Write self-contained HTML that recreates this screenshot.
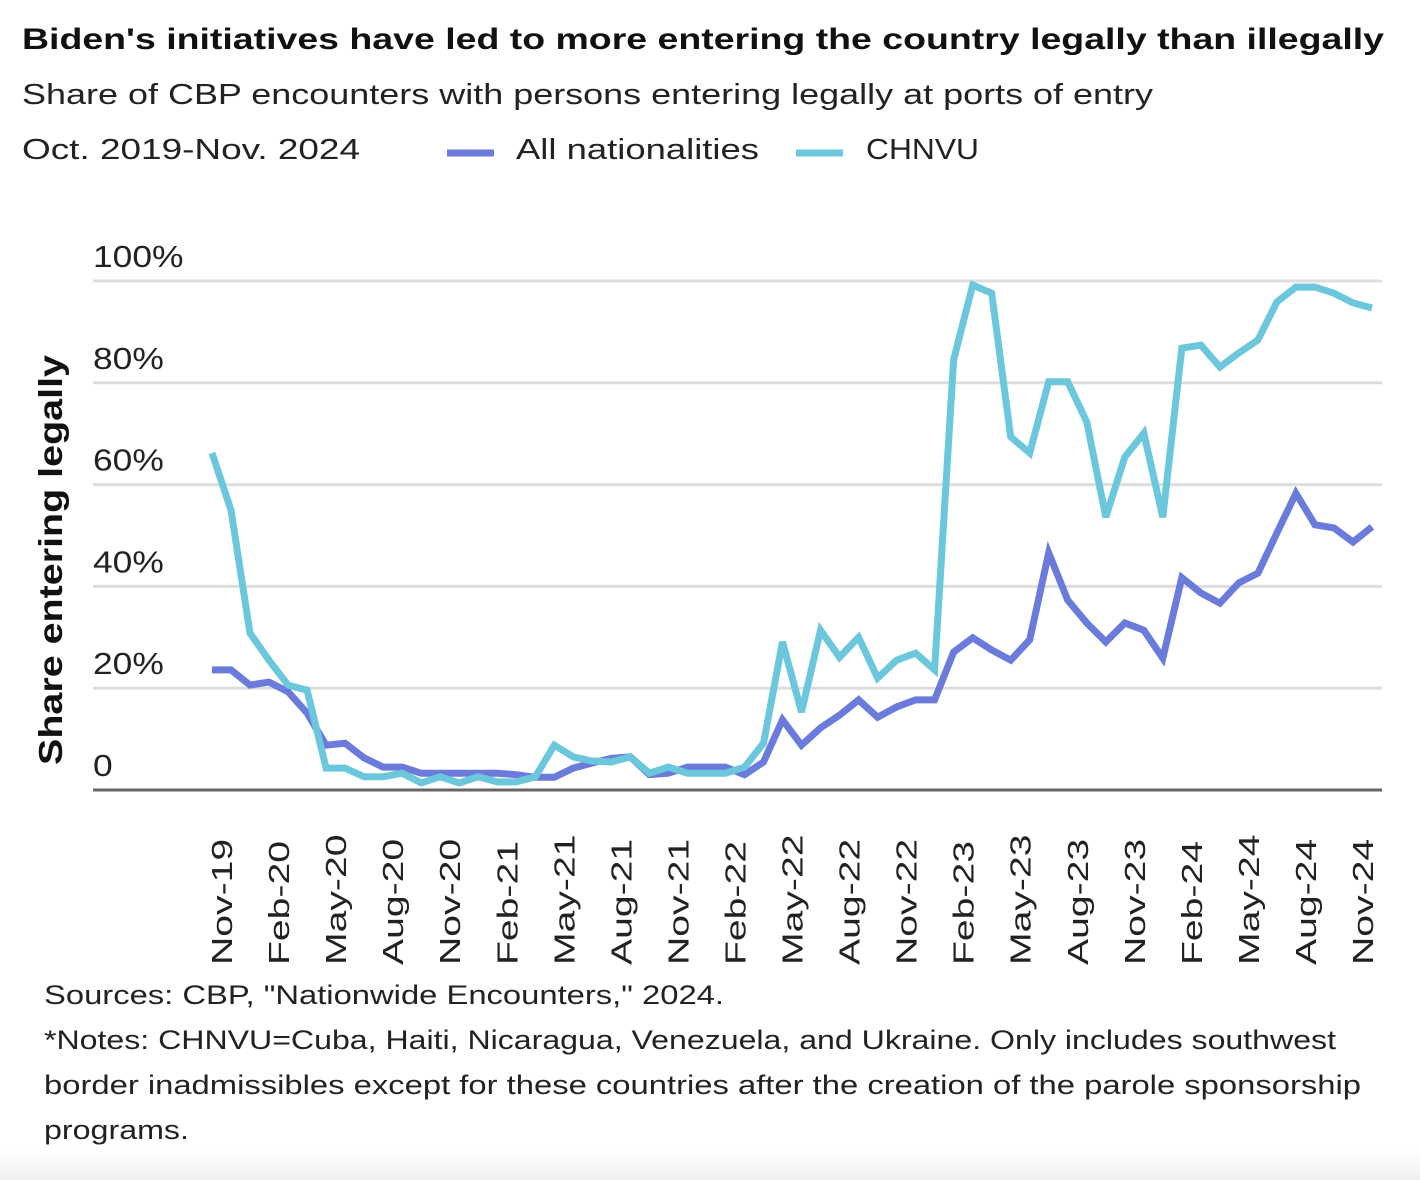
<!DOCTYPE html>
<html><head><meta charset="utf-8"><style>
body{margin:0;background:#fff;}
svg{display:block;font-family:"Liberation Sans",Arial,sans-serif;}
</style></head><body>
<svg id="chart" width="1420" height="1180" viewBox="0 0 1420 1180">
<defs><linearGradient id="bg" x1="0" y1="0" x2="0" y2="1"><stop offset="0" stop-color="#fff"/><stop offset="1" stop-color="#f0f0f0"/></linearGradient></defs>
<rect x="0" y="1150" width="1420" height="30" fill="url(#bg)"/>
<text x="22" y="49" font-size="30" font-weight="bold" fill="#111" textLength="1362" lengthAdjust="spacingAndGlyphs">Biden's initiatives have led to more entering the country legally than illegally</text>
<text x="22" y="104" font-size="29" fill="#222" textLength="1131" lengthAdjust="spacingAndGlyphs">Share of CBP encounters with persons entering legally at ports of entry</text>
<text x="22" y="159" font-size="29" fill="#222" textLength="338" lengthAdjust="spacingAndGlyphs">Oct. 2019-Nov. 2024</text>
<g>
<line x1="447" y1="153" x2="494" y2="153" stroke="#6b7bdc" stroke-width="7"/>
<text x="516" y="159" font-size="29" fill="#222" textLength="243" lengthAdjust="spacingAndGlyphs">All nationalities</text>
</g>
<g>
<line x1="796" y1="153" x2="843" y2="153" stroke="#6bc7dc" stroke-width="7"/>
<text x="866" y="159" font-size="29" fill="#222" textLength="113" lengthAdjust="spacingAndGlyphs">CHNVU</text>
</g>
<text transform="translate(62,560) rotate(-90)" text-anchor="middle" font-size="33" font-weight="bold" fill="#111" textLength="410" lengthAdjust="spacingAndGlyphs">Share entering legally</text>
<g id="grid"></g><g id="series"></g><g id="xlabels"></g>
<text x="44" y="1004" font-size="27" fill="#222" textLength="680" lengthAdjust="spacingAndGlyphs">Sources: CBP, "Nationwide Encounters," 2024.</text>
<text x="44" y="1049" font-size="27" fill="#222" textLength="1292" lengthAdjust="spacingAndGlyphs">*Notes: CHNVU=Cuba, Haiti, Nicaragua, Venezuela, and Ukraine. Only includes southwest</text>
<text x="44" y="1094" font-size="27" fill="#222" textLength="1317" lengthAdjust="spacingAndGlyphs">border inadmissibles except for these countries after the creation of the parole sponsorship</text>
<text x="44" y="1139" font-size="27" fill="#222" textLength="145" lengthAdjust="spacingAndGlyphs">programs.</text>
</svg>
<script>
const yTicks=[0,20,40,60,80,100];
const yTickLabels=["0","20%","40%","60%","80%","100%"];
const xTickLabels=["Nov-19","Feb-20","May-20","Aug-20","Nov-20","Feb-21","May-21","Aug-21","Nov-21","Feb-22","May-22","Aug-22","Nov-22","Feb-23","May-23","Aug-23","Nov-23","Feb-24","May-24","Aug-24","Nov-24"];
const allNationalities=[23.6,23.6,20.6,21.2,19.3,15.1,8.8,9.2,6.3,4.5,4.5,3.3,3.3,3.3,3.3,3.3,3,2.5,2.5,4.3,5.3,6.2,6.5,
3,3.3,4.5,4.5,4.5,3,5.5,13.8,8.8,12.2,14.7,17.7,14.3,16.3,17.7,17.7,
27.1,29.9,27.5,25.5,29.5,46.6,37.3,32.8,29.1,32.8,31.4,25.9,41.7,38.7,36.7,40.7,42.6,50.5,58.3,52.1,51.5,48.7,51.7];
const chnvu=[66.2,55,30.8,25.5,20.6,19.6,4.3,4.3,2.6,2.6,3.3,1.4,2.6,1.4,2.6,1.6,1.6,2.6,8.8,6.5,5.7,5.5,6.5,
3.3,4.5,3.3,3.3,3.3,4.5,9.2,29.1,15.3,31.4,26.1,30,22,25.5,26.9,23.6,
84.5,99.2,97.6,69.4,66.2,80.2,80.2,72.3,53.6,65.4,70.1,53.6,86.8,87.4,83.1,85.9,88.4,95.9,98.8,98.8,97.6,95.7,94.7];
const NS="http://www.w3.org/2000/svg";
const x0=212,x1=1372,y0=790,y100=281;
const n=allNationalities.length;
function xScale(i){return x0+(x1-x0)*i/(n-1);}
function yScale(v){return y0+(y100-y0)*v/100;}
function mk(tag,attrs,parent){const e=document.createElementNS(NS,tag);for(const k in attrs)e.setAttribute(k,attrs[k]);parent.appendChild(e);return e;}
const grid=document.getElementById('grid');
yTicks.forEach((t,k)=>{
  const ln=mk('line',{x1:93,x2:1382,y1:yScale(t),y2:yScale(t),stroke:t===0?'#666':'#ddd','stroke-width':3},grid);
  
  
  const tx=mk('text',{transform:'translate(93,'+(yScale(t)-14)+') scale(1.22,1.04)','font-size':29,fill:'#222'},grid);
  tx.textContent=yTickLabels[k];
  
  
});
const ser=document.getElementById('series');
function drawLine(arr,color,name){
  const d=arr.map((v,i)=>(i?'L':'M')+xScale(i).toFixed(1)+','+yScale(v).toFixed(1)).join(' ');
  const p=mk('path',{d:d,fill:'none',stroke:color,'stroke-width':7,'stroke-linejoin':'miter'},ser);
  
  
}
drawLine(allNationalities,'#6b7bdc','line-all-nationalities');
drawLine(chnvu,'#6bc7dc','line-chnvu');
const xl=document.getElementById('xlabels');
xTickLabels.forEach((lab,k)=>{
  const xx=xScale(1+k*3)+1;
  const t=mk('text',{transform:'translate('+xx.toFixed(1)+',965) rotate(-90) scale(1.45,1.05)','font-size':27,fill:'#222'},xl);
  t.textContent=lab;
  
  
});
</script>
</body></html>
